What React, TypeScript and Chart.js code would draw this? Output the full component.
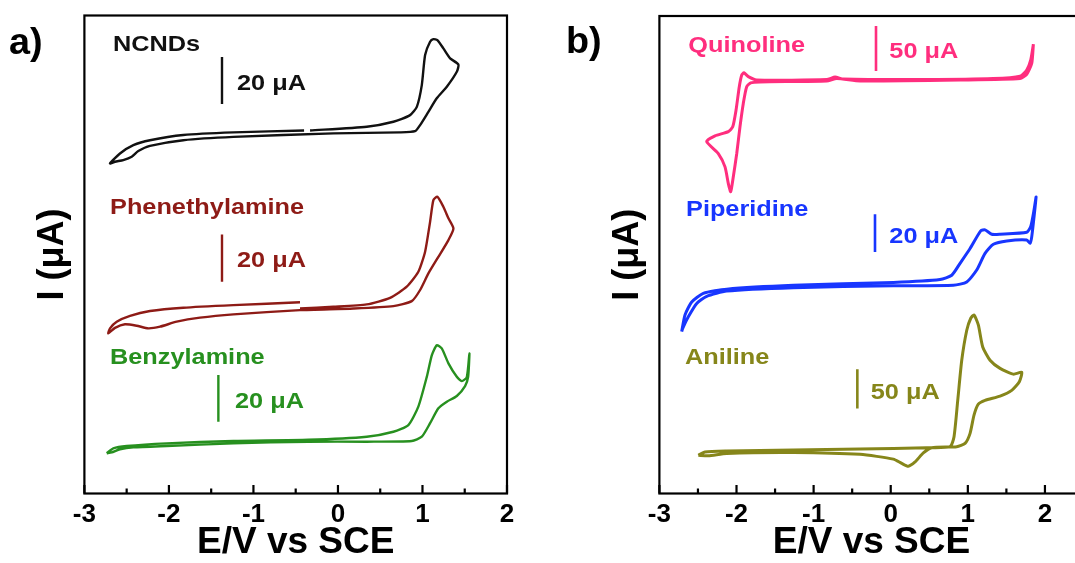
import React, { useEffect, useRef } from 'react';
import { Chart, registerables } from 'chart.js';

Chart.register(...registerables);

const FONT = '"Liberation Sans", Arial, Helvetica, sans-serif';

// ---------- axis ticks ----------
const xMajorTicks = [-3, -2, -1, 0, 1, 2];
const xMinorTicks = [-2.5, -1.5, -0.5, 0.5, 1.5];

// ---------- panel a (I in µA, offset) ----------
const ncndsE = [-0.330, 0.341, 0.656, 0.853, 0.933, 0.992, 1.031, 1.090, 1.129, 1.176, 1.247, 1.327, 1.425, 1.406, 1.288, 1.169, 1.070, 0.972, 0.912, 0.735, -0.054, -1.238, -1.830, -2.224, -2.362, -2.440, -2.540, -2.638, -2.697, -2.579, -2.421, -2.224, -1.830, -1.238, -0.401];
const ncndsI = [153.4, 155.0, 157.1, 159.9, 163.4, 172.6, 185.3, 190.9, 192.0, 191.6, 188.1, 183.9, 181.3, 178.2, 171.9, 167.0, 161.3, 155.7, 153.1, 152.6, 152.2, 150.7, 149.3, 146.9, 144.7, 142.3, 140.9, 140.2, 139.5, 143.7, 147.2, 149.3, 151.5, 152.6, 153.4];

const pheE = [-0.449, -1.238, -1.830, -2.224, -2.460, -2.618, -2.697, -2.717, -2.638, -2.520, -2.381, -2.244, -2.105, -1.908, -1.632, -1.238, -0.449, 0.182, 0.656, 0.873, 0.972, 1.070, 1.188, 1.307, 1.366, 1.307, 1.247, 1.176, 1.129, 1.090, 1.031, 0.951, 0.814, 0.617, 0.341, -0.054, -0.449];
const pheI = [80.8, 79.6, 78.5, 77.1, 75.1, 72.6, 69.8, 67.7, 70.0, 71.5, 70.9, 69.8, 70.5, 72.6, 74.3, 75.7, 77.5, 78.2, 79.2, 81.3, 86.0, 93.0, 100.0, 107.1, 112.0, 116.3, 121.2, 125.4, 124.0, 114.8, 102.2, 93.7, 87.4, 82.7, 79.9, 78.9, 78.2];

const benE = [-2.736, -2.658, -2.499, -2.026, -1.238, -0.350, 0.341, 0.656, 0.833, 0.951, 1.051, 1.111, 1.169, 1.228, 1.307, 1.406, 1.465, 1.524, 1.555, 1.540, 1.504, 1.406, 1.288, 1.188, 1.090, 0.992, 0.873, 0.341, -0.350, -1.238, -2.026, -2.421, -2.579, -2.677, -2.736];
const benI = [17.0, 19.1, 20.1, 21.2, 22.2, 22.7, 24.0, 26.1, 28.9, 36.7, 49.3, 58.5, 62.7, 61.3, 55.0, 49.3, 47.5, 49.1, 59.2, 49.3, 45.4, 41.2, 38.8, 36.0, 29.7, 24.0, 22.2, 21.9, 21.9, 21.2, 20.1, 19.5, 18.7, 17.4, 17.0];

// 20 µA scale bars (panel a)
const barA1E = [-1.372, -1.372];
const barA1I = [164.6, 184.5];
const barA2E = [-1.372, -1.372];
const barA2I = [89.5, 109.5];
const barA3E = [-1.415, -1.415];
const barA3I = [30.3, 50.1];

// ---------- panel b (I, offset, arbitrary units) ----------
const quiE = [1.850, 1.829, 1.764, 1.677, 0.899, -0.398, -0.700, -0.830, -1.695, -1.816, -1.868, -1.912, -1.955, -1.997, -2.042, -2.075, -2.106, -2.149, -2.236, -2.387, -2.279, -2.106, -2.049, -2.006, -1.964, -1.933, -1.903, -1.847, -1.738, -0.830, -0.722, -0.615, 0.467, 1.331, 1.677, 1.764, 1.816, 1.850];
const quiI = [94.1, 90.1, 87.8, 86.9, 86.6, 86.4, 86.9, 86.4, 86.2, 86.0, 85.2, 81.7, 76.8, 71.2, 66.3, 63.2, 64.9, 68.4, 71.2, 73.7, 74.9, 75.8, 76.8, 80.3, 85.2, 87.6, 88.1, 87.3, 86.6, 86.7, 87.2, 86.8, 86.7, 86.9, 87.4, 88.7, 90.8, 94.1];

const pipE = [-2.711, -2.668, -2.581, -2.431, -2.127, -1.263, 0.034, 0.639, 0.791, 0.899, 1.029, 1.167, 1.223, 1.310, 1.418, 1.764, 1.816, 1.859, 1.885, 1.859, 1.829, 1.807, 1.764, 1.505, 1.331, 1.223, 1.115, 0.986, 0.812, 0.034, -1.263, -2.127, -2.387, -2.516, -2.625, -2.698, -2.711];
const pipI = [33.9, 37.4, 40.1, 41.9, 42.8, 43.6, 44.2, 44.8, 45.7, 48.2, 51.3, 55.0, 55.2, 54.3, 54.3, 54.7, 55.9, 59.4, 62.1, 58.0, 53.8, 52.4, 53.1, 52.9, 52.2, 50.3, 46.8, 44.3, 43.6, 43.5, 43.1, 42.4, 41.3, 39.8, 37.0, 34.6, 33.9];

const aniE = [-2.495, -2.409, -2.127, -1.263, -0.398, 0.467, 0.769, 0.821, 0.869, 0.921, 0.986, 1.038, 1.080, 1.136, 1.193, 1.288, 1.418, 1.590, 1.699, 1.668, 1.569, 1.418, 1.223, 1.136, 1.080, 1.029, 0.964, 0.856, 0.532, 0.423, 0.315, 0.228, 0.143, 0.034, -0.398, -1.263, -2.127, -2.366, -2.495];
const aniI = [8.0, 8.7, 8.9, 9.1, 9.3, 9.6, 9.8, 11.9, 19.5, 27.9, 34.2, 36.7, 37.4, 35.3, 30.7, 27.9, 26.2, 25.0, 25.4, 23.4, 21.6, 20.4, 19.5, 18.7, 16.4, 12.6, 10.5, 9.8, 9.6, 8.5, 6.6, 5.7, 6.3, 7.2, 8.2, 8.6, 8.4, 7.9, 8.0];

// scale bars (panel b)
const barB1E = [-0.191, -0.191];
const barB1I = [88.5, 97.9];
const barB2E = [-0.204, -0.204];
const barB2I = [50.6, 58.5];
const barB3E = [-0.433, -0.433];
const barB3I = [17.8, 26.0];

// ---------- colours ----------
const C_NCND = '#111111';
const C_PHE = '#8E1B16';
const C_BEN = '#27901F';
const C_QUI = '#FF2E7E';
const C_PIP = '#1836FF';
const C_ANI = '#86861A';

// ---------- annotation texts (anchored in data units) ----------
const labelsA = [
  { text: 'NCNDs', x: -2.662, y: 186.9, color: C_NCND },
  { text: '20 μA', x: -1.194, y: 170.5, color: C_NCND },
  { text: 'Phenethylamine', x: -2.697, y: 118.1, color: C_PHE },
  { text: '20 μA', x: -1.194, y: 95.7, color: C_PHE },
  { text: 'Benzylamine', x: -2.697, y: 54.7, color: C_BEN },
  { text: '20 μA', x: -1.218, y: 36.0, color: C_BEN },
];
const labelsB = [
  { text: 'Quinoline', x: -2.625, y: 92.5, color: C_QUI },
  { text: '50 μA', x: -0.018, y: 91.1, color: C_QUI },
  { text: 'Piperidine', x: -2.655, y: 58.2, color: C_PIP },
  { text: '20 μA', x: -0.018, y: 52.4, color: C_PIP },
  { text: 'Aniline', x: -2.668, y: 27.1, color: C_ANI },
  { text: '50 μA', x: -0.259, y: 19.7, color: C_ANI },
];

function pairs(xs: number[], ys: number[]) {
  return xs.map((x, i) => ({ x, y: ys[i] }));
}

function series(xs: number[], ys: number[], color: string, width: number) {
  return {
    data: pairs(xs, ys),
    borderColor: color,
    backgroundColor: color,
    borderWidth: width,
    pointRadius: 0,
    showLine: true,
    fill: false,
    tension: 0.2,
    borderJoinStyle: 'round' as const,
    borderCapStyle: 'butt' as const,
  };
}

function makeOverlay(labels: any[], letter: string, letterX: number, letterY: number) {
  return {
    id: 'overlay_' + letter,
    afterDatasetsDraw(chart: any) {
      const { ctx, chartArea: ca, scales } = chart;
      const xs = scales.x;
      const ys = scales.y;
      ctx.save();
      ctx.strokeStyle = '#000';
      ctx.lineWidth = 2.2;
      ctx.strokeRect(ca.left, ca.top, ca.right - ca.left, ca.bottom - ca.top);
      ctx.beginPath();
      for (const v of xMajorTicks) {
        const px = xs.getPixelForValue(v);
        ctx.moveTo(px, ca.bottom);
        ctx.lineTo(px, ca.bottom - 8.5);
      }
      for (const v of xMinorTicks) {
        const px = xs.getPixelForValue(v);
        ctx.moveTo(px, ca.bottom);
        ctx.lineTo(px, ca.bottom - 5);
      }
      ctx.stroke();
      ctx.textBaseline = 'alphabetic';
      ctx.textAlign = 'left';
      for (const l of labels) {
        ctx.save();
        ctx.translate(xs.getPixelForValue(l.x), ys.getPixelForValue(l.y));
        ctx.scale(1.15, 1);
        ctx.font = `bold 22px ${FONT}`;
        ctx.fillStyle = l.color;
        ctx.fillText(l.text, 0, 0);
        ctx.restore();
      }
      ctx.save();
      ctx.translate(letterX, letterY);
      ctx.scale(1.05, 1);
      ctx.font = `bold 36px ${FONT}`;
      ctx.fillStyle = '#000';
      ctx.fillText(letter, 0, 0);
      ctx.restore();
      ctx.restore();
    },
  };
}

function buildConfig(opts: {
  datasets: any[];
  xMax: number;
  yMax: number;
  yWidth: number;
  pad: { left: number; top: number; right: number; bottom: number };
  yTitlePad: number;
  labels: any[];
  letter: string;
  letterX: number;
  letterY: number;
}) {
  return {
    type: 'scatter' as const,
    data: { datasets: opts.datasets },
    plugins: [makeOverlay(opts.labels, opts.letter, opts.letterX, opts.letterY)],
    options: {
      responsive: false,
      animation: false as const,
      events: [],
      layout: { padding: opts.pad },
      plugins: { legend: { display: false }, tooltip: { enabled: false }, title: { display: false } },
      scales: {
        x: {
          type: 'linear' as const,
          min: -3,
          max: opts.xMax,
          afterBuildTicks: (s: any) => {
            s.ticks = xMajorTicks.map((v) => ({ value: v }));
          },
          afterFit: (s: any) => {
            s.height = 69.5;
          },
          grid: { display: false, drawTicks: false },
          border: { display: false },
          ticks: {
            color: '#000',
            padding: 6,
            autoSkip: false,
            maxRotation: 0,
            font: { family: FONT, size: 26, weight: 'bold' as const },
            callback: (v: any) => String(v),
          },
          title: {
            display: true,
            text: 'E/V vs SCE',
            color: '#000',
            padding: { top: 0, bottom: 2 },
            font: { family: FONT, size: 37, weight: 'bold' as const, lineHeight: 1 },
          },
        },
        y: {
          type: 'linear' as const,
          min: 0,
          max: opts.yMax,
          afterFit: (s: any) => {
            s.width = opts.yWidth;
          },
          grid: { display: false, drawTicks: false },
          border: { display: false },
          ticks: { display: false },
          title: {
            display: true,
            text: 'I (μA)',
            color: '#000',
            padding: { top: opts.yTitlePad, bottom: 0 },
            font: { family: FONT, size: 36, weight: 'bold' as const, lineHeight: 1 },
          },
        },
      },
    },
  };
}

function ChartCanvas({ config, width, height, left }: { config: any; width: number; height: number; left: number }) {
  const ref = useRef<HTMLCanvasElement | null>(null);
  useEffect(() => {
    if (!ref.current) return;
    const chart = new Chart(ref.current, config);
    return () => chart.destroy();
  }, [config]);
  return (
    <canvas
      ref={ref}
      width={width}
      height={height}
      style={{ position: 'absolute', left, top: 0, width, height }}
    />
  );
}

const configA = buildConfig({
  datasets: [
    series(ncndsE, ncndsI, C_NCND, 2.4),
    series(pheE, pheI, C_PHE, 2.4),
    series(benE, benI, C_BEN, 2.4),
    series(barA1E, barA1I, C_NCND, 2.4),
    series(barA2E, barA2I, C_PHE, 2.4),
    series(barA3E, barA3I, C_BEN, 2.4),
  ],
  xMax: 2,
  yMax: 202,
  yWidth: 84.4,
  pad: { left: 0, top: 15.5, right: 33, bottom: 0 },
  yTitlePad: 35,
  labels: labelsA,
  letter: 'a)',
  letterX: 9,
  letterY: 53.5,
});

const configB = buildConfig({
  datasets: [
    series(quiE, quiI, C_QUI, 3),
    series(pipE, pipI, C_PIP, 3),
    series(aniE, aniI, C_ANI, 3),
    series(barB1E, barB1I, C_QUI, 2.6),
    series(barB2E, barB2I, C_PIP, 2.6),
    series(barB3E, barB3I, C_ANI, 2.6),
  ],
  xMax: 2.5,
  yMax: 100,
  yWidth: 119.4,
  pad: { left: 0, top: 16, right: 16.5, bottom: 0 },
  yTitlePad: 70,
  labels: labelsB,
  letter: 'b)',
  letterX: 26,
  letterY: 53,
});

export default function App() {
  return (
    <div
      style={{
        position: 'fixed',
        left: 0,
        top: 0,
        width: 1075,
        height: 563,
        overflow: 'hidden',
        background: '#fff',
      }}
    >
      <ChartCanvas config={configA} width={540} height={563} left={0} />
      <ChartCanvas config={configB} width={560} height={563} left={540} />
    </div>
  );
}
